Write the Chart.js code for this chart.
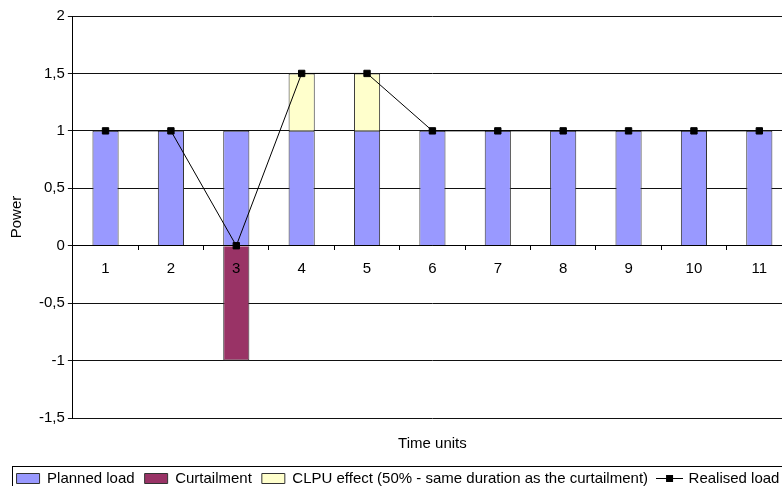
<!DOCTYPE html>
<html>
<head>
<meta charset="utf-8">
<script src="https://cdn.jsdelivr.net/npm/chart.js@4.4.1/dist/chart.umd.min.js"></script>
<style>
  html, body { margin: 0; padding: 0; background: #fff; overflow: hidden; }
  #wrap { width: 782px; height: 486px; overflow: hidden; }
</style>
</head>
<body>
<div id="wrap"><canvas id="grafico" width="800" height="500"></canvas></div>
<script>
// dados
const tempos = ['1', '2', '3', '4', '5', '6', '7', '8', '9', '10', '11'];
const cargaPlaneada = [1, 1, 1, 1, 1, 1, 1, 1, 1, 1, 1];
const corte = [0, 0, -1, 0, 0, 0, 0, 0, 0, 0, 0];
const efeitoClpu = [0, 0, 0, 0.5, 0.5, 0, 0, 0, 0, 0, 0];
const cargaRealizada = [1, 1, 0, 1.5, 1.5, 1, 1, 1, 1, 1, 1];

Chart.defaults.font.family = "'Liberation Sans', Arial, sans-serif";
Chart.defaults.font.size = 15;
Chart.defaults.color = '#000';

// icone da legenda para a linha (linha com quadrado)
const iconeLinha = document.createElement('canvas');
iconeLinha.width = 27;
iconeLinha.height = 11;
(function() {
    const c = iconeLinha.getContext('2d');
    c.strokeStyle = '#000';
    c.lineWidth = 1;
    c.beginPath();
    c.moveTo(0, 5.5);
    c.lineTo(27, 5.5);
    c.stroke();
    c.fillStyle = '#000';
    c.fillRect(10, 2, 7, 7);
})();

// moldura em volta da legenda
const molduraLegenda = {
    id: 'molduraLegenda',
    afterDraw(chart) {
        const caixas = chart.legend && chart.legend.legendHitBoxes;
        if (!caixas || !caixas.length) return;
        const primeira = caixas[0];
        const ultima = caixas[caixas.length - 1];
        const meio = primeira.top + primeira.height / 2;
        const ctx = chart.ctx;
        ctx.save();
        ctx.strokeStyle = '#000';
        ctx.lineWidth = 1;
        ctx.strokeRect(Math.round(primeira.left) - 4.5, Math.round(meio) - 12.5,
            ultima.left + ultima.width - primeira.left + 12, 25);
        ctx.restore();
    }
};

const barraBase = {
    borderColor: '#333',
    borderWidth: 1,
    barPercentage: 0.4,
    categoryPercentage: 1,
    order: 1
};

new Chart(document.getElementById('grafico'), {
    type: 'bar',
    data: {
        labels: tempos,
        datasets: [
            Object.assign({ label: 'Planned load', data: cargaPlaneada, backgroundColor: '#9999FF' }, barraBase),
            Object.assign({ label: 'Curtailment', data: corte, backgroundColor: '#993366' }, barraBase),
            Object.assign({ label: 'CLPU effect (50% - same duration as the curtailment)', data: efeitoClpu, backgroundColor: '#FFFFCC' }, barraBase),
            {
                type: 'line',
                label: 'Realised load',
                data: cargaRealizada,
                stack: 'realizada',
                order: 0,
                borderColor: '#000',
                borderWidth: 1,
                tension: 0,
                fill: false,
                pointStyle: 'rect',
                pointRadius: 4.5,
                pointBackgroundColor: '#000',
                pointBorderColor: '#000',
                pointBorderWidth: 1
            }
        ]
    },
    options: {
        responsive: false,
        animation: false,
        layout: { padding: { left: 4, right: 8, top: 16, bottom: 4 } },
        scales: {
            x: {
                stacked: true,
                position: { y: 0 },
                grid: { offset: true, drawOnChartArea: false, tickLength: 4, color: '#000', z: 1 },
                border: { color: '#000', z: 1 },
                ticks: { padding: 10, color: '#000', z: 1 }
            },
            x2: {
                type: 'category',
                position: 'bottom',
                labels: tempos,
                grid: { display: false, drawTicks: false },
                border: { display: false },
                ticks: { display: false },
                title: { display: true, text: 'Time units', color: '#000', padding: { top: 17, bottom: 8 } }
            },
            y: {
                stacked: true,
                min: -1.5,
                max: 2,
                ticks: {
                    stepSize: 0.5,
                    padding: 3,
                    color: '#000',
                    callback: v => String(v).replace('.', ',')
                },
                grid: { color: '#111', tickLength: 5 },
                border: { color: '#000' },
                title: { display: true, text: 'Power', color: '#000', padding: { top: 4, bottom: 10 } }
            }
        },
        plugins: {
            tooltip: { enabled: false },
            legend: {
                position: 'bottom',
                labels: {
                    usePointStyle: true,
                    pointStyleWidth: 23,
                    boxHeight: 10,
                    padding: 10,
                    color: '#000',
                    sort: (a, b) => a.datasetIndex - b.datasetIndex,
                    generateLabels(chart) {
                        const itens = Chart.defaults.plugins.legend.labels.generateLabels(chart);
                        itens.forEach(it => {
                            it.pointStyle = it.datasetIndex === 3 ? iconeLinha : 'rect';
                        });
                        return itens;
                    }
                }
            }
        }
    },
    plugins: [molduraLegenda]
});
</script>
</body>
</html>
